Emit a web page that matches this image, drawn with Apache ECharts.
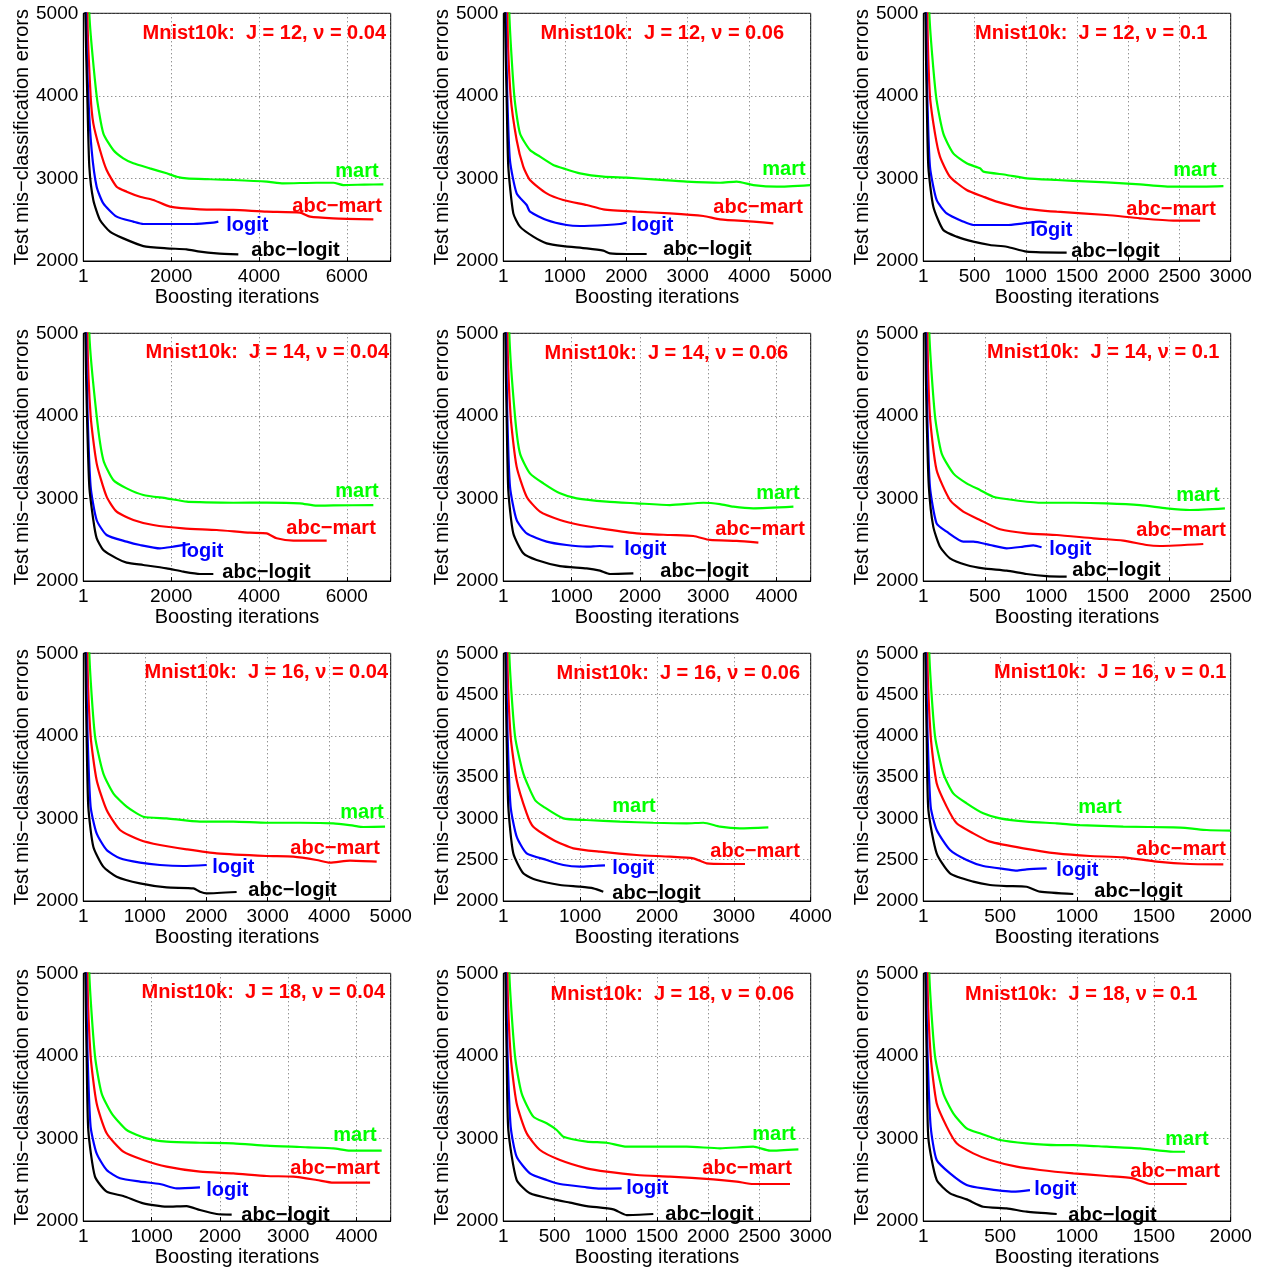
<!DOCTYPE html>
<html><head><meta charset="utf-8">
<script src="https://cdn.jsdelivr.net/npm/echarts@6/dist/echarts.min.js"></script>
<style>html,body{margin:0;padding:0;background:#fff}#c{width:1265px;height:1270px}</style>
</head><body><div id="c"></div>
<script>
// ---------- DATA: [boosting iteration, test mis-classification errors] ----------
// J = 12, nu = 0.04
const mart_J12_v004 = [[1,9000],[137,5000],[304,4000],[456,3546],[683,3344],[911,3243],[1139,3183],[1518,3122],[1898,3062],[2126,3021],[2354,3000],[2900,2990],[3416,2981],[4176,2961],[4555,2941],[5314,2948],[5694,2948],[5922,2920],[6400,2925],[6833,2928]];
const abcmart_J12_v004 = [[1,9000],[91,5000],[167,4000],[228,3667],[380,3344],[531,3102],[759,2900],[987,2840],[1291,2779],[1594,2739],[1974,2658],[2657,2626],[3416,2618],[4176,2597],[4935,2585],[5162,2537],[5694,2517],[6605,2505]];
const logit_J12_v004 = [[1,9000],[61,5000],[114,4000],[190,3344],[304,2900],[456,2698],[759,2537],[1139,2477],[1367,2448],[1898,2448],[2505,2448],[2961,2464],[3075,2477]];
const abclogit_J12_v004 = [[1,9000],[46,5000],[91,4000],[137,3143],[228,2739],[380,2497],[607,2355],[911,2274],[1367,2181],[1898,2153],[2354,2141],[2657,2113],[3037,2093],[3530,2080]];
// J = 12, nu = 0.06
const mart_J12_v006 = [[1,9000],[98,5000],[179,4000],[271,3546],[434,3344],[597,3264],[813,3163],[976,3122],[1247,3062],[1627,3021],[2007,3009],[2440,2989],[2982,2961],[3525,2948],[3796,2961],[4067,2920],[4447,2900],[4989,2920]];
const abcmart_J12_v006 = [[1,9000],[65,5000],[119,4000],[217,3466],[325,3143],[434,2981],[705,2819],[976,2739],[1356,2678],[1627,2626],[2169,2597],[2711,2577],[3254,2545],[3525,2505],[4067,2477],[4393,2456]];
const logit_J12_v006 = [[1,9000],[38,5000],[65,4000],[108,3223],[217,2819],[380,2678],[434,2597],[705,2497],[1030,2436],[1247,2424],[1681,2436],[1898,2448],[2007,2464]];
const abclogit_J12_v006 = [[1,9000],[27,5000],[54,4000],[81,3143],[163,2577],[271,2416],[488,2295],[705,2214],[976,2181],[1356,2153],[1627,2125],[1735,2093],[2007,2085],[2332,2085]];
// J = 12, nu = 0.1
const mart_J12_v01 = [[1,9000],[59,5000],[124,4000],[195,3546],[293,3304],[423,3183],[553,3122],[586,3083],[814,3042],[1009,3001],[1302,2981],[1627,2961],[1952,2941],[2115,2928],[2440,2900],[2603,2900],[2929,2908]];
const abcmart_J12_v01 = [[1,9000],[39,5000],[65,4000],[114,3546],[163,3264],[260,3021],[423,2860],[586,2779],[716,2719],[976,2638],[1302,2597],[1790,2557],[2115,2517],[2440,2489],[2701,2489]];
const logit_J12_v01 = [[1,9000],[26,5000],[39,4000],[65,3143],[130,2739],[228,2577],[390,2477],[488,2436],[814,2436],[976,2456],[1139,2477],[1204,2464]];
const abclogit_J12_v01 = [[1,9000],[20,5000],[33,4000],[49,3143],[98,2658],[195,2375],[325,2295],[488,2234],[651,2194],[814,2173],[1009,2113],[1399,2101]];
// J = 14, nu = 0.04
const mart_J14_v004 = [[1,9000],[137,5000],[304,4000],[456,3466],[683,3223],[987,3122],[1367,3042],[1898,3001],[2354,2961],[2657,2955],[3416,2948],[4176,2950],[4935,2941],[5314,2912],[5694,2915],[6605,2920]];
const abcmart_J14_v004 = [[1,9000],[91,5000],[167,4000],[304,3425],[531,3021],[759,2840],[1139,2739],[1594,2678],[2278,2638],[3037,2618],[3796,2585],[4176,2577],[4403,2517],[4783,2489],[5542,2489]];
const logit_J14_v004 = [[1,9000],[61,5000],[99,4000],[167,3143],[304,2739],[531,2557],[987,2477],[1291,2436],[1746,2395],[2050,2416],[2429,2448]];
const abclogit_J14_v004 = [[1,9000],[46,5000],[84,4000],[137,3143],[228,2739],[304,2520],[455,2375],[759,2274],[987,2222],[1367,2194],[1898,2153],[2278,2113],[2657,2085],[2961,2085]];
// J = 14, nu = 0.06
const mart_J14_v006 = [[1,9000],[88,5000],[171,4000],[244,3546],[390,3304],[586,3183],[830,3062],[1074,3001],[1513,2961],[1952,2941],[2440,2920],[2928,2948],[3172,2932],[3368,2900],[3660,2880],[4247,2900]];
const abcmart_J14_v006 = [[1,9000],[59,5000],[107,4000],[195,3385],[342,3021],[537,2840],[830,2739],[1123,2678],[1513,2626],[1952,2577],[2440,2557],[2782,2545],[3026,2497],[3417,2485],[3734,2464]];
const logit_J14_v006 = [[1,9000],[39,5000],[59,4000],[98,3143],[195,2739],[342,2577],[635,2477],[927,2436],[1220,2416],[1415,2424],[1611,2416]];
const abclogit_J14_v006 = [[1,9000],[29,5000],[49,4000],[73,3100],[146,2577],[293,2335],[488,2254],[830,2181],[1220,2153],[1415,2125],[1562,2085],[1904,2093]];
// J = 14, nu = 0.1
const mart_J14_v01 = [[1,9000],[49,5000],[95,4000],[149,3546],[244,3304],[352,3183],[461,3102],[569,3021],[732,2981],[949,2948],[1220,2948],[1491,2941],[1762,2920],[1979,2880],[2169,2860],[2453,2880]];
const abcmart_J14_v01 = [[1,9000],[33,5000],[54,4000],[108,3344],[217,2981],[325,2840],[461,2739],[624,2626],[840,2577],[1085,2557],[1383,2517],[1627,2489],[1816,2436],[1925,2424],[2277,2448]];
const logit_J14_v01 = [[1,9000],[22,5000],[33,4000],[54,3143],[108,2698],[190,2597],[325,2477],[407,2477],[542,2436],[678,2395],[813,2416],[895,2432],[962,2408]];
const abclogit_J14_v01 = [[1,9000],[16,5000],[27,4000],[45,3143],[81,2658],[136,2416],[217,2274],[352,2194],[488,2153],[678,2125],[840,2085],[1003,2060],[1166,2052]];
// J = 16, nu = 0.04
const mart_J16_v004 = [[1,9000],[98,5000],[190,4000],[325,3546],[488,3304],[705,3143],[976,3021],[1356,3001],[1898,2961],[2440,2961],[2982,2948],[3525,2948],[4067,2941],[4393,2912],[4555,2896],[4908,2900]];
const abcmart_J16_v004 = [[1,9000],[65,5000],[119,4000],[217,3466],[380,3102],[597,2860],[922,2739],[1247,2678],[1681,2626],[2169,2577],[2982,2545],[3417,2537],[3796,2497],[4013,2464],[4338,2489],[4772,2477]];
const logit_J16_v004 = [[1,9000],[43,5000],[70,4000],[119,3143],[217,2819],[380,2618],[597,2517],[922,2464],[1247,2436],[1627,2424],[2007,2436]];
const abclogit_J16_v004 = [[1,9000],[33,5000],[54,4000],[81,3143],[163,2658],[325,2416],[542,2295],[922,2214],[1356,2165],[1790,2153],[1898,2113],[2007,2093],[2494,2109]];
// J = 16, nu = 0.06
const mart_J16_v006 = [[1,9000],[78,5000],[152,4000],[260,3546],[412,3223],[521,3143],[781,3001],[1085,2981],[1518,2961],[1952,2948],[2386,2941],[2603,2948],[2820,2900],[3080,2880],[3449,2892]];
const abcmart_J16_v006 = [[1,9000],[52,5000],[95,4000],[174,3466],[304,3062],[390,2900],[651,2739],[911,2638],[1258,2597],[1735,2557],[2169,2537],[2473,2517],[2646,2456],[2906,2448],[3145,2448]];
const logit_J16_v006 = [[1,9000],[35,5000],[56,4000],[95,3143],[174,2779],[304,2577],[564,2497],[781,2436],[998,2416],[1171,2424],[1323,2432]];
const abclogit_J16_v006 = [[1,9000],[26,5000],[43,4000],[65,3143],[130,2577],[260,2335],[434,2254],[738,2194],[998,2173],[1171,2153],[1301,2113]];
// J = 16, nu = 0.1
const mart_J16_v01 = [[1,9000],[39,5000],[76,4000],[130,3546],[195,3304],[282,3183],[390,3062],[499,3001],[672,2961],[868,2941],[1019,2920],[1301,2900],[1627,2892],[1735,2880],[1844,2860],[2000,2852]];
const abcmart_J16_v01 = [[1,9000],[26,5000],[48,4000],[87,3425],[152,3143],[217,2941],[325,2819],[434,2719],[651,2638],[868,2577],[1085,2545],[1301,2529],[1518,2477],[1735,2448],[1952,2444]];
const logit_J16_v01 = [[1,9000],[17,5000],[28,4000],[48,3143],[87,2860],[174,2618],[282,2497],[390,2424],[542,2383],[607,2367],[672,2383],[803,2395]];
const abclogit_J16_v01 = [[1,9000],[13,5000],[22,4000],[33,3100],[87,2577],[174,2335],[325,2234],[434,2194],[542,2181],[672,2173],[759,2113],[976,2085]];
// J = 18, nu = 0.04
const mart_J18_v004 = [[1,9000],[88,5000],[171,4000],[268,3546],[415,3304],[635,3102],[927,3001],[1220,2961],[1708,2948],[2196,2941],[2684,2912],[3172,2896],[3660,2880],[3904,2852],[4368,2852]];
const abcmart_J18_v004 = [[1,9000],[59,5000],[107,4000],[195,3425],[342,3062],[586,2840],[879,2739],[1220,2658],[1708,2597],[2196,2577],[2684,2545],[3075,2537],[3417,2497],[3660,2464],[4198,2464]];
const logit_J18_v004 = [[1,9000],[39,5000],[63,4000],[107,3143],[195,2819],[342,2618],[537,2517],[830,2477],[1123,2448],[1367,2395],[1708,2408]];
const abclogit_J18_v004 = [[1,9000],[29,5000],[49,4000],[73,3100],[171,2537],[342,2355],[586,2303],[879,2214],[1220,2173],[1513,2181],[1708,2133],[1952,2085],[2172,2077]];
// J = 18, nu = 0.06
const mart_J18_v006 = [[1,9000],[59,5000],[114,4000],[179,3546],[293,3264],[423,3183],[521,3102],[586,3021],[814,2961],[1009,2948],[1204,2900],[1464,2900],[1790,2900],[2115,2880],[2440,2900],[2603,2852],[2880,2868]];
const abcmart_J18_v006 = [[1,9000],[39,5000],[72,4000],[130,3425],[228,3062],[358,2860],[553,2739],[814,2638],[1009,2597],[1302,2557],[1627,2537],[2050,2505],[2278,2477],[2440,2448],[2798,2448]];
const logit_J18_v006 = [[1,9000],[26,5000],[42,4000],[72,3143],[130,2779],[260,2577],[423,2497],[553,2448],[814,2408],[944,2391],[1155,2395]];
const abclogit_J18_v006 = [[1,9000],[20,5000],[33,4000],[49,3100],[130,2497],[260,2335],[488,2262],[651,2222],[814,2181],[1074,2141],[1204,2072],[1464,2085]];
// J = 18, nu = 0.1
const mart_J18_v01 = [[1,9000],[39,5000],[76,4000],[130,3546],[195,3304],[282,3122],[369,3062],[499,2981],[672,2941],[868,2920],[976,2920],[1193,2900],[1410,2880],[1627,2839],[1703,2839]];
const abcmart_J18_v01 = [[1,9000],[26,5000],[48,4000],[87,3425],[152,3143],[217,2941],[325,2819],[434,2739],[607,2658],[759,2618],[976,2577],[1193,2545],[1366,2517],[1475,2448],[1714,2448]];
const logit_J18_v01 = [[1,9000],[17,5000],[28,4000],[48,3143],[87,2739],[174,2577],[282,2436],[390,2395],[586,2355],[694,2375]];
const abclogit_J18_v01 = [[1,9000],[13,5000],[22,4000],[33,3000],[87,2497],[174,2335],[282,2262],[390,2173],[542,2153],[672,2113],[868,2085]];

// panel parameters (J, nu) and axis ranges
const panelJ  = [12,12,12,14,14,14,16,16,16,18,18,18];
const panelNu = ['0.04','0.06','0.1','0.04','0.06','0.1','0.04','0.06','0.1','0.04','0.06','0.1'];
const xMaxes  = [7000,5000,3000,7000,4500,2500,5000,4000,2000,4500,3000,2000];
const xSteps  = [2000,1000,500,2000,1000,500,1000,1000,500,1000,500,500];
const yMin = 2000, yMax = 5000;
const ySteps  = [1000,1000,1000,1000,1000,1000,1000,500,500,1000,1000,1000];
const seriesNames = ['mart','abc\u2212mart','logit','abc\u2212logit'];
const panelData = [
  [mart_J12_v004, abcmart_J12_v004, logit_J12_v004, abclogit_J12_v004],
  [mart_J12_v006, abcmart_J12_v006, logit_J12_v006, abclogit_J12_v006],
  [mart_J12_v01,  abcmart_J12_v01,  logit_J12_v01,  abclogit_J12_v01],
  [mart_J14_v004, abcmart_J14_v004, logit_J14_v004, abclogit_J14_v004],
  [mart_J14_v006, abcmart_J14_v006, logit_J14_v006, abclogit_J14_v006],
  [mart_J14_v01,  abcmart_J14_v01,  logit_J14_v01,  abclogit_J14_v01],
  [mart_J16_v004, abcmart_J16_v004, logit_J16_v004, abclogit_J16_v004],
  [mart_J16_v006, abcmart_J16_v006, logit_J16_v006, abclogit_J16_v006],
  [mart_J16_v01,  abcmart_J16_v01,  logit_J16_v01,  abclogit_J16_v01],
  [mart_J18_v004, abcmart_J18_v004, logit_J18_v004, abclogit_J18_v004],
  [mart_J18_v006, abcmart_J18_v006, logit_J18_v006, abclogit_J18_v006],
  [mart_J18_v01,  abcmart_J18_v01,  logit_J18_v01,  abclogit_J18_v01]
];

// ---------- LAYOUT / STYLE ----------
const colors = ['#00ff00','#ff0000','#0000ff','#000000'];
const FONT = '"Liberation Sans", Arial, Helvetica, sans-serif';
const colLeft = [83.3, 503.3, 923.3];
const rowTop = [13.3, 333.3, 653.3, 973.3];
const W = 307.4, H = 247.7;
// title centre offsets (from plot top-left)
const titlePos = [[181,20],[159,20],[168,20],[184,19],[163,20],[180,19],[183,19],[175,20],[187,19],[180,19],[169,21.5],[158,21.5]];
// curve-label anchors (left edge, vertical middle) offsets from plot top-left
const labelPos = [
  [[252,158],[209,193],[143,212],[168,237]],
  [[259,156],[210,194],[128,212],[160,236]],
  [[250,157],[203,196],[107,217],[148,238]],
  [[252,158],[203,195],[98,218],[139,239]],
  [[253,160],[212,196],[121,216],[157,238]],
  [[253,162],[213,197],[126,216],[149,237]],
  [[257,159],[207,195],[129,214],[165,237]],
  [[109,153],[207,198],[109,215],[109,240]],
  [[155,154],[213,196],[133,217],[171,238]],
  [[250,162],[207,195],[123,217],[158,242]],
  [[249,161],[199,195],[123,215],[162,241]],
  [[242,166],[207,198],[111,216],[145,242]]
];

const grids = [], xAxes = [], yAxes = [], series = [], graphics = [];
for (let p = 0; p < 12; p++) {
  const r = Math.floor(p / 3), c = p % 3;
  const L = colLeft[c], T = rowTop[r];
  grids.push({left: L, top: T, width: W, height: H, show: true, borderColor: '#000', borderWidth: 1, backgroundColor: 'transparent', containLabel: false});
  const xs = xSteps[p];
  xAxes.push({
    type: 'value', gridIndex: p, min: 0, max: xMaxes[p], interval: xs,
    name: 'Boosting iterations', nameLocation: 'middle', nameGap: 26,
    nameTextStyle: {fontFamily: FONT, fontSize: 20, color: '#000'},
    axisLine: {show: true, onZero: false, lineStyle: {color: '#000', width: 1}},
    axisTick: {show: true, inside: true, length: 4, lineStyle: {color: '#000'}},
    axisLabel: {fontFamily: FONT, fontSize: 19, color: '#000', margin: 6,
      formatter: v => (v % xs !== 0) ? '' : (v === 0 ? '1' : String(v))},
    splitLine: {show: true, lineStyle: {color: '#666', width: 1, type: [1, 3]}}
  });
  yAxes.push({
    type: 'value', gridIndex: p, min: yMin, max: yMax, interval: ySteps[p],
    name: 'Test mis\u2212classification errors', nameLocation: 'middle', nameGap: 46,
    nameTextStyle: {fontFamily: FONT, fontSize: 20, color: '#000'},
    axisLine: {show: true, onZero: false, lineStyle: {color: '#000', width: 1}},
    axisTick: {show: true, inside: true, length: 4, lineStyle: {color: '#000'}},
    axisLabel: {fontFamily: FONT, fontSize: 19, color: '#000', margin: 5, formatter: v => String(v)},
    splitLine: {show: true, lineStyle: {color: '#666', width: 1, type: [1, 3]}}
  });
  for (let s = 0; s < 4; s++) {
    series.push({
      type: 'line', name: seriesNames[s], xAxisIndex: p, yAxisIndex: p,
      data: panelData[p][s], showSymbol: false, symbol: 'none', smooth: 0.2,
      clip: true, lineStyle: {color: colors[s], width: 2.2}, z: 3 + s
    });
    const lp = labelPos[p][s];
    graphics.push({type: 'text', x: L + lp[0], y: T + lp[1], z: 100,
      style: {text: seriesNames[s], fill: colors[s], font: 'bold 20px ' + FONT, textAlign: 'left', textVerticalAlign: 'middle'}});
  }
  const tp = titlePos[p];
  graphics.push({type: 'text', x: L + tp[0], y: T + tp[1], z: 100,
    style: {text: 'Mnist10k:  J = ' + panelJ[p] + ', \u03bd = ' + panelNu[p], fill: '#ff0000', font: 'bold 20px ' + FONT, textAlign: 'center', textVerticalAlign: 'middle'}});
}

const chart = echarts.init(document.getElementById('c'), null, {renderer: 'canvas'});
chart.setOption({
  animation: false, backgroundColor: '#fff',
  grid: grids, xAxis: xAxes, yAxis: yAxes, series: series, graphic: graphics
});
</script></body></html>
